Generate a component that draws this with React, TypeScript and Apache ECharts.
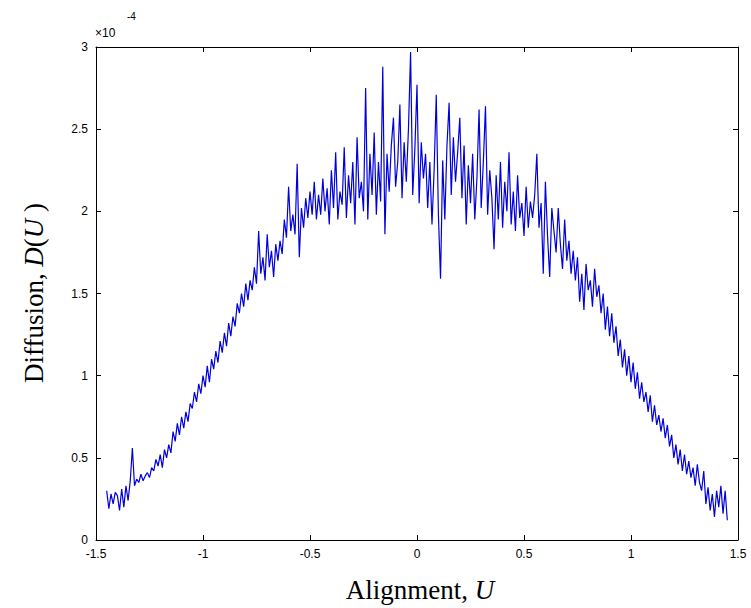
import React, { useEffect, useRef } from "react";
import * as echarts from "echarts";

// Sampling grid of the alignment U
const U_START = -1.45;
const U_STEP = 0.01;

// Diffusion D(U), in units of 1e-4
const diffusion: number[] = [
  0.30, 0.19, 0.28, 0.22, 0.29, 0.27, 0.18, 0.31, 0.20, 0.33,
  0.24, 0.36, 0.56, 0.33, 0.37, 0.35, 0.40, 0.36, 0.39, 0.41,
  0.38, 0.44, 0.42, 0.49, 0.45, 0.52, 0.44, 0.55, 0.50, 0.58,
  0.53, 0.66, 0.60, 0.71, 0.64, 0.75, 0.68, 0.78, 0.72, 0.83,
  0.80, 0.90, 0.84, 0.95, 0.89, 1.00, 0.93, 1.06, 0.96, 1.10,
  1.04, 1.15, 1.08, 1.21, 1.14, 1.26, 1.18, 1.32, 1.24, 1.36,
  1.30, 1.44, 1.38, 1.50, 1.42, 1.56, 1.46, 1.58, 1.52, 1.66,
  1.56, 1.88, 1.62, 1.72, 1.58, 1.86, 1.66, 1.76, 1.60, 1.80,
  1.70, 1.82, 1.74, 1.95, 1.84, 2.15, 1.88, 1.98, 1.86, 2.29,
  1.72, 2.02, 1.90, 2.08, 1.96, 2.12, 1.98, 2.18, 1.95, 2.10,
  1.98, 2.20, 2.00, 2.14, 1.92, 2.25, 2.02, 2.36, 1.95, 2.12,
  2.04, 2.39, 1.96, 2.22, 2.05, 2.30, 1.92, 2.45, 2.08, 2.18,
  2.00, 2.75, 1.95, 2.35, 2.10, 2.48, 1.98, 2.30, 2.06, 2.88,
  1.86, 2.35, 2.12, 2.40, 2.57, 2.15, 2.30, 2.65, 2.08, 2.42,
  2.18, 2.50, 2.97, 2.10, 2.38, 2.77, 2.05, 2.42, 2.20, 2.35,
  2.02, 2.30, 1.92, 2.25, 2.71, 1.98, 1.59, 2.31, 1.95, 2.40,
  2.66, 2.10, 2.45, 2.18, 2.36, 2.57, 2.08, 2.40, 1.92, 2.28,
  2.05, 2.35, 1.95, 2.20, 2.62, 2.02, 2.30, 2.64, 1.98, 2.25,
  2.08, 1.77, 2.22, 1.95, 2.30, 1.90, 2.18, 2.00, 2.36, 1.92,
  2.12, 1.88, 2.22, 1.96, 2.05, 1.85, 2.15, 1.90, 2.06, 1.96,
  2.10, 2.35, 1.90, 2.05, 1.62, 2.18, 1.85, 1.60, 2.02, 1.88,
  1.75, 2.02, 1.80, 1.65, 1.95, 1.70, 1.82, 1.62, 1.76, 1.58,
  1.72, 1.45, 1.62, 1.40, 1.68, 1.52, 1.58, 1.42, 1.65, 1.48,
  1.55, 1.38, 1.50, 1.28, 1.42, 1.24, 1.38, 1.20, 1.30, 1.12,
  1.22, 1.05, 1.16, 1.00, 1.12, 0.96, 1.08, 0.92, 1.02, 0.86,
  0.96, 0.84, 0.90, 0.78, 0.88, 0.72, 0.82, 0.70, 0.76, 0.66,
  0.74, 0.62, 0.70, 0.57, 0.64, 0.50, 0.58, 0.46, 0.55, 0.42,
  0.52, 0.40, 0.48, 0.38, 0.44, 0.33, 0.46, 0.35, 0.30, 0.42,
  0.22, 0.32, 0.18, 0.28, 0.14, 0.30, 0.20, 0.33, 0.16, 0.30,
  0.12,
];

const X_MIN = -1.5;
const X_MAX = 1.5;
const X_INTERVAL = 0.5;
const Y_MIN = 0;
const Y_MAX = 3;
const Y_INTERVAL = 0.5;

const TICK_FONT = "'Liberation Sans', Arial, Helvetica, sans-serif";
const SERIF = "'Liberation Serif', 'Times New Roman', serif";

export default function App() {
  const ref = useRef<HTMLDivElement>(null);

  useEffect(() => {
    if (!ref.current) return;
    const chart = echarts.init(ref.current, null, { renderer: "svg" });
    const data = diffusion.map((d, i) => [
      Number((U_START + i * U_STEP).toFixed(2)),
      d,
    ]);

    const axisLine = { show: true, onZero: false, lineStyle: { color: "#000", width: 1 } };
    const axisTick = { show: true, inside: true, length: 5, lineStyle: { color: "#000", width: 1 } };
    const axisLabel = { color: "#000", fontSize: 12, fontFamily: TICK_FONT, margin: 8 };

    chart.setOption({
      animation: false,
      backgroundColor: "#fff",
      grid: { left: 96, right: 13, top: 47, bottom: 68, containLabel: false },
      xAxis: [
        {
          type: "value",
          min: X_MIN,
          max: X_MAX,
          interval: X_INTERVAL,
          position: "bottom",
          axisLine,
          axisTick,
          axisLabel,
          splitLine: { show: false },
        },
        {
          type: "value",
          min: X_MIN,
          max: X_MAX,
          interval: X_INTERVAL,
          position: "top",
          axisLine,
          axisTick,
          axisLabel: { show: false },
          splitLine: { show: false },
        },
      ],
      yAxis: [
        {
          type: "value",
          min: Y_MIN,
          max: Y_MAX,
          interval: Y_INTERVAL,
          position: "left",
          axisLine,
          axisTick,
          axisLabel,
          splitLine: { show: false },
        },
        {
          type: "value",
          min: Y_MIN,
          max: Y_MAX,
          interval: Y_INTERVAL,
          position: "right",
          axisLine,
          axisTick,
          axisLabel: { show: false },
          splitLine: { show: false },
        },
      ],
      series: [
        {
          type: "line",
          xAxisIndex: 0,
          yAxisIndex: 0,
          data,
          showSymbol: false,
          symbol: "none",
          lineStyle: { color: "#0000dd", width: 1.2 },
        },
      ],
      graphic: [
        {
          type: "text",
          x: 95,
          y: 27,
          style: { text: "×10", fontSize: 12, fontFamily: TICK_FONT, fill: "#000" },
        },
        {
          type: "text",
          x: 127,
          y: 11,
          style: { text: "-4", fontSize: 10, fontFamily: TICK_FONT, fill: "#000" },
        },
        {
          type: "text",
          x: 420,
          y: 590,
          style: {
            text: "{n|Alignment, }{i|U}",
            align: "center",
            verticalAlign: "middle",
            fill: "#000",
            rich: {
              n: { fontSize: 27, fontFamily: SERIF, fill: "#000" },
              i: { fontSize: 27, fontFamily: SERIF, fontStyle: "italic", fill: "#000" },
            },
          },
        },
        {
          type: "text",
          x: 34,
          y: 293,
          rotation: Math.PI / 2,
          style: {
            text: "{n|Diffusion, }{i|D}{n|(}{i|U}{n| )}",
            align: "center",
            verticalAlign: "middle",
            fill: "#000",
            rich: {
              n: { fontSize: 27, fontFamily: SERIF, fill: "#000" },
              i: { fontSize: 27, fontFamily: SERIF, fontStyle: "italic", fill: "#000" },
            },
          },
        },
      ],
    });

    return () => {
      chart.dispose();
    };
  }, []);

  return (
    <div
      ref={ref}
      style={{ position: "absolute", left: 0, top: 0, width: 751, height: 608, background: "#fff" }}
    />
  );
}
